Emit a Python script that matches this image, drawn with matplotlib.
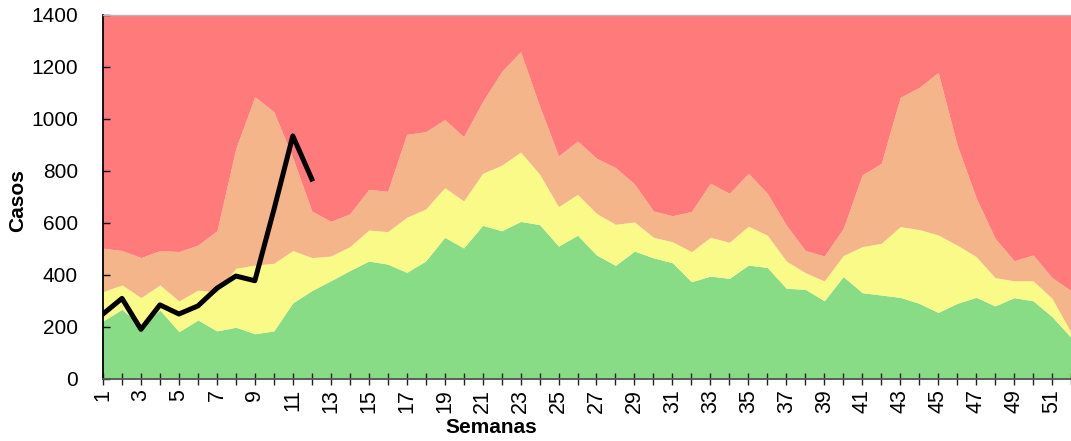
import matplotlib
matplotlib.use("Agg")
import matplotlib.pyplot as plt
import numpy as np

plt.rcParams['font.family'] = ['Liberation Sans', 'DejaVu Sans']

semanas = np.arange(1, 53)

# limites acumulados del canal endemico (casos)
exito = [223, 268, 205, 265, 182, 227, 185, 199, 174, 185,
         293, 340, 378, 417, 454, 442, 410, 454, 545, 504,
         591, 570, 606, 594, 511, 553, 477, 437, 492, 466,
         447, 374, 396, 387, 438, 429, 349, 345, 301, 394,
         332, 323, 314, 291, 256, 291, 314, 281, 313, 301,
         240, 160]
seguridad = [336, 362, 313, 362, 300, 342, 334, 426, 438, 445,
             494, 467, 473, 509, 573, 567, 622, 654, 736, 685,
             791, 822, 873, 788, 663, 710, 637, 595, 604, 545,
             528, 490, 545, 526, 588, 553, 454, 409, 377, 475,
             509, 522, 586, 575, 554, 515, 471, 390, 378, 378,
             310, 180]
alarma = [503, 494, 467, 494, 490, 515, 570, 887, 1086, 1028,
          850, 646, 606, 635, 729, 722, 941, 951, 998, 932,
          1067, 1182, 1259, 1050, 858, 915, 849, 813, 750, 646,
          628, 644, 753, 714, 791, 714, 592, 494, 473, 579,
          785, 829, 1083, 1121, 1179, 900, 697, 541, 455, 477,
          390, 340]
techo = 1400

semanas_actual = np.arange(1, 13)
casos_actual = [250, 310, 191, 285, 250, 281, 349, 396, 378, 650, 935, 769]

fig = plt.figure(figsize=(10.71, 4.41), dpi=100)
ax = fig.add_axes([103 / 1071, 62 / 441, 1 - 103 / 1071, 364 / 441])

ax.fill_between(semanas, 0, exito, color='#88dc85', lw=0)
ax.fill_between(semanas, exito, seguridad, color='#fafa88', lw=0)
ax.fill_between(semanas, seguridad, alarma, color='#f4b58a', lw=0)
ax.fill_between(semanas, alarma, techo, color='#ff7b7b', lw=0)

ax.plot(semanas_actual, casos_actual, color='black', lw=3.6)

ax.set_xlim(1, 1 + (1071 - 103) / 19.14)
ax.set_ylim(0, 1400)
ax.set_yticks(np.arange(0, 1401, 200))
ax.set_xticks(semanas)
ax.set_xticklabels([str(s) if s % 2 == 1 else '' for s in semanas], rotation=90)

ax.tick_params(axis='y', direction='in', length=5, width=1, labelsize=15, pad=18)
ax.tick_params(axis='x', direction='inout', length=8.5, width=1, labelsize=15.5, pad=3,
               color='#222222')

ax.spines['right'].set_visible(False)
ax.spines['top'].set_color('#b8b0c8')
ax.spines['top'].set_linewidth(1)
ax.spines['left'].set_color('black')
ax.spines['left'].set_linewidth(1.3)
ax.spines['bottom'].set_color('#555555')
ax.spines['bottom'].set_linewidth(1.3)

ax.set_ylabel('Casos', fontsize=15, fontweight='bold')
ax.set_xlabel('Semanas', fontsize=15, fontweight='bold')
ax.xaxis.set_label_coords(0.401, -0.108)
ax.yaxis.set_label_coords(-0.078, 0.49)

fig.savefig('out.png', dpi=100)
